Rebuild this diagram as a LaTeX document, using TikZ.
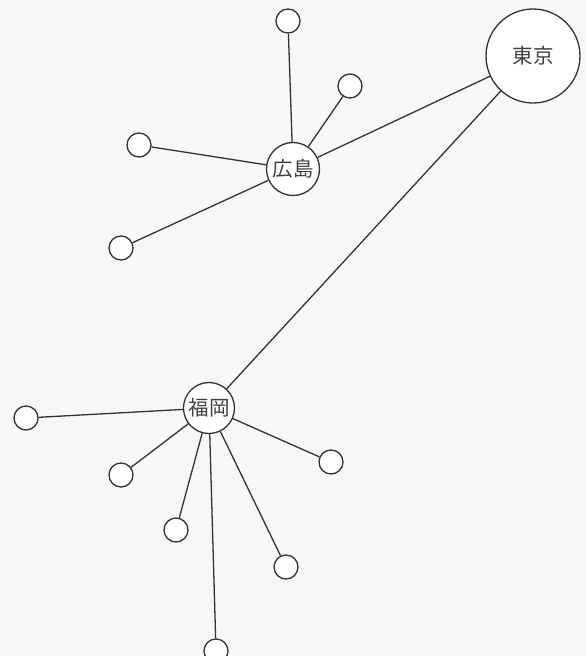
\documentclass[tikz,border=0pt]{standalone}
\usepackage{fontspec}
\newfontfamily\cjk{Noto Sans CJK JP}
\begin{document}
\begin{tikzpicture}[x=1pt,y=-1pt,
  every node/.style={inner sep=0pt},
  city/.style={circle,draw=black!80,line width=1.3pt,fill=white,font=\cjk\fontsize{20.5}{20.5}\selectfont,text=black!75},
  leaf/.style={circle,draw=black!80,line width=1.3pt,fill=white,minimum size=24pt},
  link/.style={draw=black!80,line width=1.3pt}]
\fill[black!3] (0,0) rectangle (586,656);
\useasboundingbox (0,0) rectangle (586,656);
% cities
\node[city,minimum size=94pt] (tokyo) at (533,56) {東京};
\node[city,minimum size=53pt] (hiroshima) at (293,169) {広島};
\node[city,minimum size=51pt] (fukuoka) at (209,408) {福岡};
% Hiroshima leaves
\node[leaf] (h1) at (288,21) {};
\node[leaf] (h2) at (350,86) {};
\node[leaf] (h3) at (139,145) {};
\node[leaf] (h4) at (121,248) {};
% Fukuoka leaves
\node[leaf] (f1) at (26,418) {};
\node[leaf] (f2) at (121,475) {};
\node[leaf] (f3) at (176,530) {};
\node[leaf] (f4) at (331,462) {};
\node[leaf] (f5) at (286,567) {};
\node[leaf] (f6) at (216,651) {};
% links
\draw[link] (tokyo) -- (hiroshima);
\draw[link] (tokyo) -- (fukuoka);
\foreach \n in {h1,h2,h3,h4} \draw[link] (hiroshima) -- (\n);
\foreach \n in {f1,f2,f3,f4,f5,f6} \draw[link] (fukuoka) -- (\n);
\end{tikzpicture}
\end{document}
